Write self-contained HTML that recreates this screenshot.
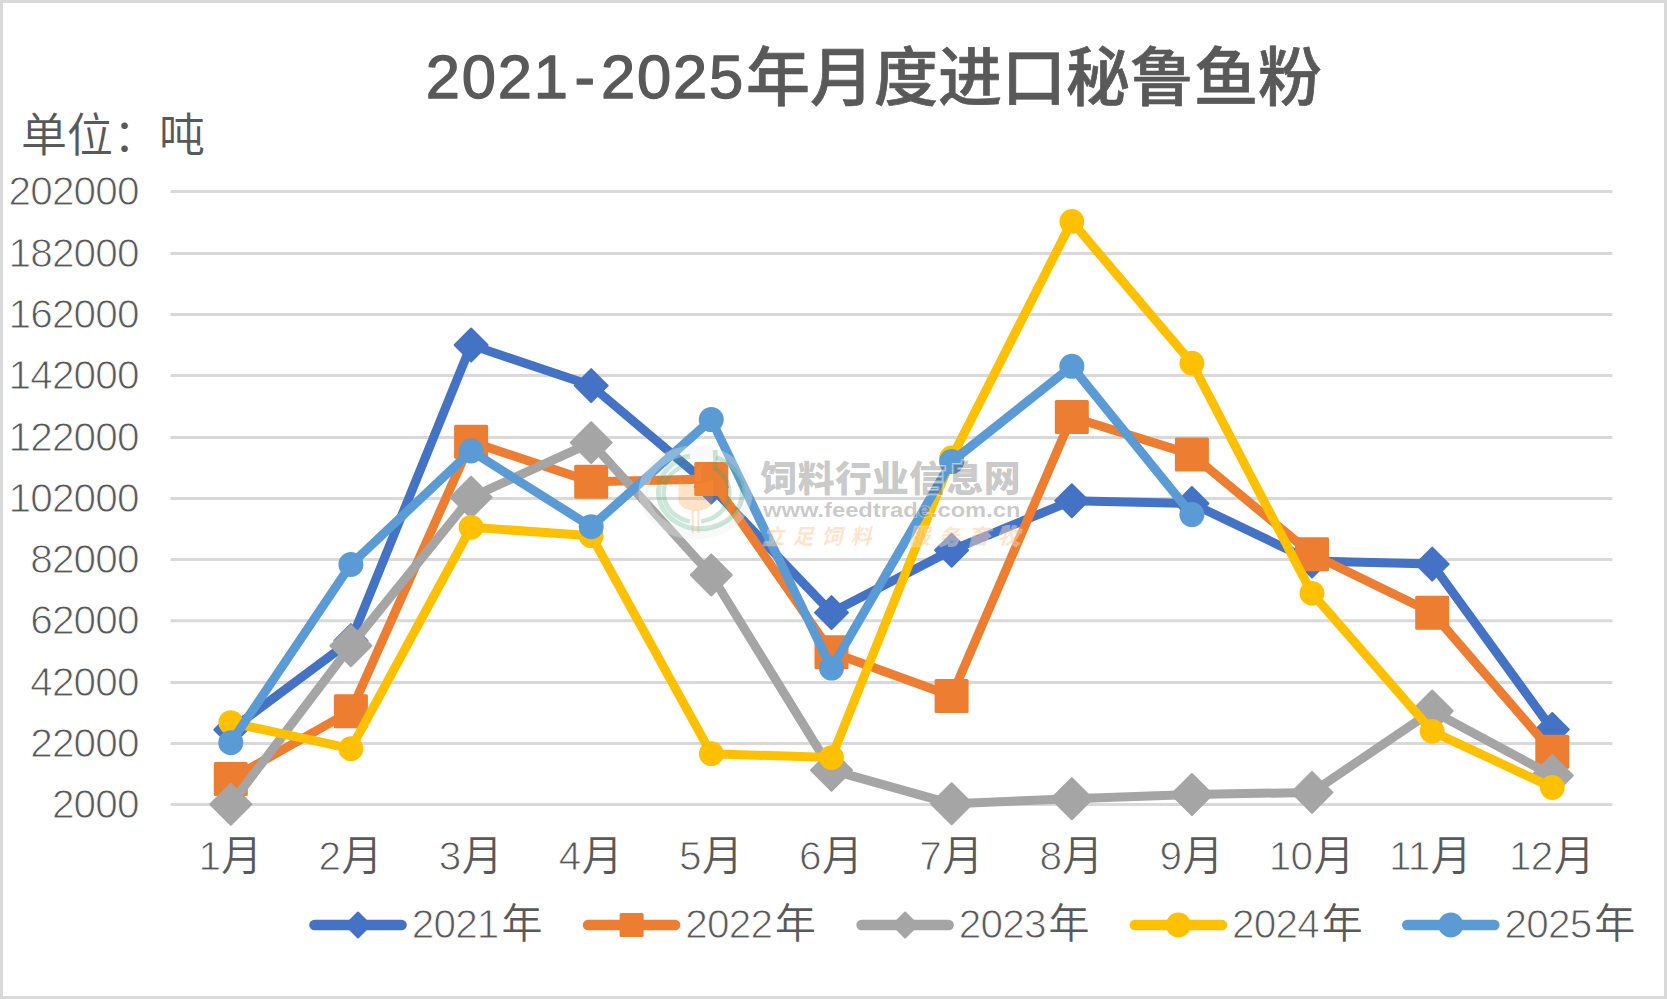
<!DOCTYPE html>
<html lang="zh-CN">
<head>
<meta charset="utf-8">
<title>2021-2025年月度进口秘鲁鱼粉</title>
<style>
html,body{margin:0;padding:0;background:#fff;}
body{width:1667px;height:999px;overflow:hidden;font-family:"Liberation Sans", "Noto Sans CJK SC", sans-serif;}
svg{display:block;}
text{font-family:"Liberation Sans", "Noto Sans CJK SC", sans-serif;fill:#595959;}
.ax{font-size:40.5px;font-weight:300;}
.ax .c,.lg .c{font-size:41px;font-weight:350;}
.n{stroke:#fff;stroke-width:.9px;letter-spacing:-.8px;}
.ttl{font-size:61.5px;font-weight:500;letter-spacing:1.8px;stroke:#595959;stroke-width:1.3px;stroke-linejoin:round;}
.ttl .c{font-size:64px;letter-spacing:0;stroke-width:.7px;}
.unit{font-size:46px;font-weight:350;}
.lg{font-size:40.5px;font-weight:300;}
</style>
</head>
<body>
<svg width="1667" height="999" viewBox="0 0 1667 999">

<rect x="0" y="0" width="1667" height="999" fill="#D9D9D9"/>
<rect x="3" y="3" width="1661" height="993" fill="#FFFFFF"/>
<text class="ttl" y="98.4"><tspan x="425.8">2021</tspan><tspan x="574.6">-</tspan><tspan x="601">2025</tspan><tspan class="c" x="746" y="100">年月度进口秘鲁鱼粉</tspan></text>
<text class="unit" x="21" y="151">单位：吨</text>
<g stroke="#D9D9D9" stroke-width="3" fill="none">
<line x1="170.6" y1="191.5" x2="1612.4" y2="191.5"/>
<line x1="170.6" y1="253.5" x2="1612.4" y2="253.5"/>
<line x1="170.6" y1="314.6" x2="1612.4" y2="314.6"/>
<line x1="170.6" y1="375.5" x2="1612.4" y2="375.5"/>
<line x1="170.6" y1="437.5" x2="1612.4" y2="437.5"/>
<line x1="170.6" y1="498.5" x2="1612.4" y2="498.5"/>
<line x1="170.6" y1="559.6" x2="1612.4" y2="559.6"/>
<line x1="170.6" y1="620.7" x2="1612.4" y2="620.7"/>
<line x1="170.6" y1="682.6" x2="1612.4" y2="682.6"/>
<line x1="170.6" y1="743.6" x2="1612.4" y2="743.6"/>
<line x1="170.6" y1="804.6" x2="1612.4" y2="804.6"/>
</g>
<g class="ax" text-anchor="end">
<text x="138.8" y="204.9"><tspan class="n">202000</tspan></text>
<text x="138.8" y="266.9"><tspan class="n">182000</tspan></text>
<text x="138.8" y="328.0"><tspan class="n">162000</tspan></text>
<text x="138.8" y="388.9"><tspan class="n">142000</tspan></text>
<text x="138.8" y="450.9"><tspan class="n">122000</tspan></text>
<text x="138.8" y="511.9"><tspan class="n">102000</tspan></text>
<text x="138.8" y="573.0"><tspan class="n">82000</tspan></text>
<text x="138.8" y="634.1"><tspan class="n">62000</tspan></text>
<text x="138.8" y="696.0"><tspan class="n">42000</tspan></text>
<text x="138.8" y="757.0"><tspan class="n">22000</tspan></text>
<text x="138.8" y="818.0"><tspan class="n">2000</tspan></text>
</g>
<g class="ax">
<text x="198.4" y="869.6"><tspan class="n">1</tspan><tspan class="c" dx="1.2">月</tspan></text>
<text x="318.6" y="869.6"><tspan class="n">2</tspan><tspan class="c" dx="1.2">月</tspan></text>
<text x="438.7" y="869.6"><tspan class="n">3</tspan><tspan class="c" dx="1.2">月</tspan></text>
<text x="558.8" y="869.6"><tspan class="n">4</tspan><tspan class="c" dx="1.2">月</tspan></text>
<text x="679.0" y="869.6"><tspan class="n">5</tspan><tspan class="c" dx="1.2">月</tspan></text>
<text x="799.1" y="869.6"><tspan class="n">6</tspan><tspan class="c" dx="1.2">月</tspan></text>
<text x="919.3" y="869.6"><tspan class="n">7</tspan><tspan class="c" dx="1.2">月</tspan></text>
<text x="1039.4" y="869.6"><tspan class="n">8</tspan><tspan class="c" dx="1.2">月</tspan></text>
<text x="1159.6" y="869.6"><tspan class="n">9</tspan><tspan class="c" dx="1.2">月</tspan></text>
<text x="1268.8" y="869.6"><tspan class="n">10</tspan><tspan class="c" dx="1.2">月</tspan></text>
<text x="1389.0" y="869.6"><tspan class="n">11</tspan><tspan class="c" dx="1.2">月</tspan></text>
<text x="1509.1" y="869.6"><tspan class="n">12</tspan><tspan class="c" dx="1.2">月</tspan></text>
</g>
<g><polyline points="230.8,729.8 350.9,640.6 471.1,345.0 591.2,385.6 711.3,487.0 831.5,612.6 951.6,550.2 1071.8,500.7 1191.9,503.5 1312.0,561.0 1432.2,564.1 1552.3,729.5" fill="none" stroke="#4472C4" stroke-width="9" stroke-linejoin="round" stroke-linecap="round"/>
<path d="M230.8 713.3L247.3 729.8L230.8 746.3L214.3 729.8Z" fill="#4472C4" stroke="#4472C4" stroke-width="2" stroke-linejoin="round"/>
<path d="M350.9 624.1L367.4 640.6L350.9 657.1L334.4 640.6Z" fill="#4472C4" stroke="#4472C4" stroke-width="2" stroke-linejoin="round"/>
<path d="M471.1 328.5L487.6 345.0L471.1 361.5L454.6 345.0Z" fill="#4472C4" stroke="#4472C4" stroke-width="2" stroke-linejoin="round"/>
<path d="M591.2 369.1L607.7 385.6L591.2 402.1L574.7 385.6Z" fill="#4472C4" stroke="#4472C4" stroke-width="2" stroke-linejoin="round"/>
<path d="M711.3 470.5L727.8 487.0L711.3 503.5L694.8 487.0Z" fill="#4472C4" stroke="#4472C4" stroke-width="2" stroke-linejoin="round"/>
<path d="M831.5 596.1L848.0 612.6L831.5 629.1L815.0 612.6Z" fill="#4472C4" stroke="#4472C4" stroke-width="2" stroke-linejoin="round"/>
<path d="M951.6 533.7L968.1 550.2L951.6 566.7L935.1 550.2Z" fill="#4472C4" stroke="#4472C4" stroke-width="2" stroke-linejoin="round"/>
<path d="M1071.8 484.2L1088.3 500.7L1071.8 517.2L1055.3 500.7Z" fill="#4472C4" stroke="#4472C4" stroke-width="2" stroke-linejoin="round"/>
<path d="M1191.9 487.0L1208.4 503.5L1191.9 520.0L1175.4 503.5Z" fill="#4472C4" stroke="#4472C4" stroke-width="2" stroke-linejoin="round"/>
<path d="M1312.0 544.5L1328.5 561.0L1312.0 577.5L1295.5 561.0Z" fill="#4472C4" stroke="#4472C4" stroke-width="2" stroke-linejoin="round"/>
<path d="M1432.2 547.6L1448.7 564.1L1432.2 580.6L1415.7 564.1Z" fill="#4472C4" stroke="#4472C4" stroke-width="2" stroke-linejoin="round"/>
<path d="M1552.3 713.0L1568.8 729.5L1552.3 746.0L1535.8 729.5Z" fill="#4472C4" stroke="#4472C4" stroke-width="2" stroke-linejoin="round"/>
</g>
<g><polyline points="230.8,779.0 350.9,711.2 471.1,441.7 591.2,481.7 711.3,479.0 831.5,652.2 951.6,696.0 1071.8,417.0 1191.9,454.6 1312.0,554.2 1432.2,612.8 1552.3,751.8" fill="none" stroke="#ED7D31" stroke-width="9" stroke-linejoin="round" stroke-linecap="round"/>
<rect x="213.8" y="762.0" width="34" height="34" rx="1.5" fill="#ED7D31"/>
<rect x="333.9" y="694.2" width="34" height="34" rx="1.5" fill="#ED7D31"/>
<rect x="454.1" y="424.7" width="34" height="34" rx="1.5" fill="#ED7D31"/>
<rect x="574.2" y="464.7" width="34" height="34" rx="1.5" fill="#ED7D31"/>
<rect x="694.3" y="462.0" width="34" height="34" rx="1.5" fill="#ED7D31"/>
<rect x="814.5" y="635.2" width="34" height="34" rx="1.5" fill="#ED7D31"/>
<rect x="934.6" y="679.0" width="34" height="34" rx="1.5" fill="#ED7D31"/>
<rect x="1054.8" y="400.0" width="34" height="34" rx="1.5" fill="#ED7D31"/>
<rect x="1174.9" y="437.6" width="34" height="34" rx="1.5" fill="#ED7D31"/>
<rect x="1295.0" y="537.2" width="34" height="34" rx="1.5" fill="#ED7D31"/>
<rect x="1415.2" y="595.8" width="34" height="34" rx="1.5" fill="#ED7D31"/>
<rect x="1535.3" y="734.8" width="34" height="34" rx="1.5" fill="#ED7D31"/>
</g>
<g><polyline points="230.8,804.3 350.9,645.7 471.1,497.3 591.2,442.6 711.3,575.0 831.5,770.2 951.6,803.8 1071.8,798.7 1191.9,794.5 1312.0,792.4 1432.2,711.0 1552.3,775.5" fill="none" stroke="#A5A5A5" stroke-width="9" stroke-linejoin="round" stroke-linecap="round"/>
<path d="M230.8 783.8L251.3 804.3L230.8 824.8L210.3 804.3Z" fill="#A5A5A5" stroke="#A5A5A5" stroke-width="2" stroke-linejoin="round"/>
<path d="M350.9 625.2L371.4 645.7L350.9 666.2L330.4 645.7Z" fill="#A5A5A5" stroke="#A5A5A5" stroke-width="2" stroke-linejoin="round"/>
<path d="M471.1 476.8L491.6 497.3L471.1 517.8L450.6 497.3Z" fill="#A5A5A5" stroke="#A5A5A5" stroke-width="2" stroke-linejoin="round"/>
<path d="M591.2 422.1L611.7 442.6L591.2 463.1L570.7 442.6Z" fill="#A5A5A5" stroke="#A5A5A5" stroke-width="2" stroke-linejoin="round"/>
<path d="M711.3 554.5L731.8 575.0L711.3 595.5L690.8 575.0Z" fill="#A5A5A5" stroke="#A5A5A5" stroke-width="2" stroke-linejoin="round"/>
<path d="M831.5 749.7L852.0 770.2L831.5 790.7L811.0 770.2Z" fill="#A5A5A5" stroke="#A5A5A5" stroke-width="2" stroke-linejoin="round"/>
<path d="M951.6 783.3L972.1 803.8L951.6 824.3L931.1 803.8Z" fill="#A5A5A5" stroke="#A5A5A5" stroke-width="2" stroke-linejoin="round"/>
<path d="M1071.8 778.2L1092.3 798.7L1071.8 819.2L1051.3 798.7Z" fill="#A5A5A5" stroke="#A5A5A5" stroke-width="2" stroke-linejoin="round"/>
<path d="M1191.9 774.0L1212.4 794.5L1191.9 815.0L1171.4 794.5Z" fill="#A5A5A5" stroke="#A5A5A5" stroke-width="2" stroke-linejoin="round"/>
<path d="M1312.0 771.9L1332.5 792.4L1312.0 812.9L1291.5 792.4Z" fill="#A5A5A5" stroke="#A5A5A5" stroke-width="2" stroke-linejoin="round"/>
<path d="M1432.2 690.5L1452.7 711.0L1432.2 731.5L1411.7 711.0Z" fill="#A5A5A5" stroke="#A5A5A5" stroke-width="2" stroke-linejoin="round"/>
<path d="M1552.3 755.0L1572.8 775.5L1552.3 796.0L1531.8 775.5Z" fill="#A5A5A5" stroke="#A5A5A5" stroke-width="2" stroke-linejoin="round"/>
</g>
<g><polyline points="230.8,722.6 350.9,748.7 471.1,527.3 591.2,535.7 711.3,753.7 831.5,757.6 951.6,458.0 1071.8,221.4 1191.9,363.2 1312.0,593.3 1432.2,731.3 1552.3,787.5" fill="none" stroke="#FFC000" stroke-width="9" stroke-linejoin="round" stroke-linecap="round"/>
<circle cx="230.8" cy="722.6" r="12.40" fill="#FFC000"/>
<circle cx="350.9" cy="748.7" r="12.40" fill="#FFC000"/>
<circle cx="471.1" cy="527.3" r="12.40" fill="#FFC000"/>
<circle cx="591.2" cy="535.7" r="12.40" fill="#FFC000"/>
<circle cx="711.3" cy="753.7" r="12.40" fill="#FFC000"/>
<circle cx="831.5" cy="757.6" r="12.40" fill="#FFC000"/>
<circle cx="951.6" cy="458.0" r="12.40" fill="#FFC000"/>
<circle cx="1071.8" cy="221.4" r="12.40" fill="#FFC000"/>
<circle cx="1191.9" cy="363.2" r="12.40" fill="#FFC000"/>
<circle cx="1312.0" cy="593.3" r="12.40" fill="#FFC000"/>
<circle cx="1432.2" cy="731.3" r="12.40" fill="#FFC000"/>
<circle cx="1552.3" cy="787.5" r="12.40" fill="#FFC000"/>
</g>
<g><polyline points="230.8,742.7 350.9,564.5 471.1,451.0 591.2,526.7 711.3,419.6 831.5,668.1 951.6,461.6 1071.8,366.3 1191.9,514.6" fill="none" stroke="#5B9BD5" stroke-width="9" stroke-linejoin="round" stroke-linecap="round"/>
<circle cx="230.8" cy="742.7" r="12.50" fill="#5B9BD5"/>
<circle cx="350.9" cy="564.5" r="12.50" fill="#5B9BD5"/>
<circle cx="471.1" cy="451.0" r="12.50" fill="#5B9BD5"/>
<circle cx="591.2" cy="526.7" r="12.50" fill="#5B9BD5"/>
<circle cx="711.3" cy="419.6" r="12.50" fill="#5B9BD5"/>
<circle cx="831.5" cy="668.1" r="12.50" fill="#5B9BD5"/>
<circle cx="951.6" cy="461.6" r="12.50" fill="#5B9BD5"/>
<circle cx="1071.8" cy="366.3" r="12.50" fill="#5B9BD5"/>
<circle cx="1191.9" cy="514.6" r="12.50" fill="#5B9BD5"/>
</g>
<line x1="314.4" y1="925" x2="401.6" y2="925" stroke="#4472C4" stroke-width="10.4" stroke-linecap="round"/>
<path d="M358.0 912.5L370.5 925.0L358.0 937.5L345.5 925.0Z" fill="#4472C4" stroke="#4472C4" stroke-width="2" stroke-linejoin="round"/>
<text class="lg" x="411.7" y="937.9"><tspan class="n">2021</tspan><tspan class="c" dx="2.8">年</tspan></text>
<line x1="588.0" y1="925" x2="675.2" y2="925" stroke="#ED7D31" stroke-width="10.4" stroke-linecap="round"/>
<rect x="619.6" y="913.0" width="24" height="24" rx="1.5" fill="#ED7D31"/>
<text class="lg" x="685.3" y="937.9"><tspan class="n">2022</tspan><tspan class="c" dx="2.8">年</tspan></text>
<line x1="861.5" y1="925" x2="948.7" y2="925" stroke="#A5A5A5" stroke-width="10.4" stroke-linecap="round"/>
<path d="M905.1 912.5L917.6 925.0L905.1 937.5L892.6 925.0Z" fill="#A5A5A5" stroke="#A5A5A5" stroke-width="2" stroke-linejoin="round"/>
<text class="lg" x="958.8" y="937.9"><tspan class="n">2023</tspan><tspan class="c" dx="2.8">年</tspan></text>
<line x1="1134.8" y1="925" x2="1222.0" y2="925" stroke="#FFC000" stroke-width="10.4" stroke-linecap="round"/>
<circle cx="1178.4" cy="925.0" r="12.50" fill="#FFC000"/>
<text class="lg" x="1232.1" y="937.9"><tspan class="n">2024</tspan><tspan class="c" dx="2.8">年</tspan></text>
<line x1="1407.2" y1="925" x2="1494.4" y2="925" stroke="#5B9BD5" stroke-width="10.4" stroke-linecap="round"/>
<circle cx="1450.8" cy="925.0" r="12.50" fill="#5B9BD5"/>
<text class="lg" x="1504.5" y="937.9"><tspan class="n">2025</tspan><tspan class="c" dx="2.8">年</tspan></text>
<g>
<ellipse cx="695.5" cy="492.5" rx="52" ry="42" fill="none" stroke="#fff" stroke-opacity=".3" stroke-width="10"/>
<ellipse cx="695.5" cy="492.5" rx="52" ry="42" fill="none" stroke="#888" stroke-opacity=".05" stroke-width="10"/>
<g fill="none" stroke="#3aa878" stroke-opacity=".27">
<path d="M716 457.5 A42 37 0 1 1 690 456" stroke-width="5"/>
<path d="M701 521.5 A34 29.5 0 0 0 716 469 M690 464 A34 29.5 0 0 0 690 521.5" stroke-width="4.5"/>
<path d="M715.2 450 V471" stroke-width="4.6"/>
</g>
<g fill="#ff9632" fill-opacity=".27">
<path d="M678.5 481 Q695 488 713 479.5 V500 Q712 509 699.5 510.5 V533 H697.3 V511 H693.7 V533 H691.5 V510.5 Q679.5 509 678.5 500 Z"/>
<path d="M695.5 482 Q693 468 703.5 463 Q700 472 701.5 481 Z"/>
</g>
<text x="760.5" y="492.3" style="font-size:36.8px;font-weight:900;letter-spacing:.4px;fill:#444;fill-opacity:.3;stroke:#fff;stroke-opacity:.5;stroke-width:2px;paint-order:stroke">饲料行业信息网</text>
<text x="763" y="517" textLength="257.5" lengthAdjust="spacingAndGlyphs" style="font-size:20.5px;font-weight:700;fill:#444;fill-opacity:.29;stroke:#fff;stroke-opacity:.4;stroke-width:1.5px;paint-order:stroke">www.feedtrade.com.cn</text>
<text y="544" style="font-size:21px;font-weight:700;font-style:italic;letter-spacing:8.5px;fill:#ff9632;fill-opacity:.27;stroke:#fff;stroke-opacity:.4;stroke-width:2.5px;paint-order:stroke"><tspan x="763.5" style="letter-spacing:8px">立足饲料</tspan><tspan x="909">服务畜牧</tspan></text>
</g>
</svg>
</body>
</html>
